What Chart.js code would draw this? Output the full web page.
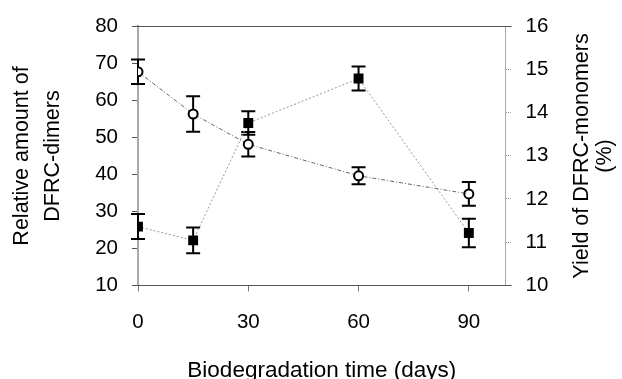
<!DOCTYPE html>
<html>
<head>
<meta charset="utf-8">
<script src="https://cdn.jsdelivr.net/npm/chart.js@4"></script>
<style>
  body { margin: 0; background: #fff; }
  canvas { display: block; }
</style>
</head>
<body>
<canvas id="chart" width="622" height="379"></canvas>
<script>
// data
const days = [0, 15, 30, 60, 90];
const xTicks = [0, 30, 60, 90];
const dimers = [67.7, 56.3, 48.1, 39.6, 34.7];      // left axis, open circles
const dimersErr = [3.3, 4.8, 3.3, 2.3, 3.2];
const monomers = [11.36, 11.04, 13.76, 14.79, 11.21]; // right axis, filled squares
const monomersErr = [0.29, 0.3, 0.27, 0.28, 0.33];

const FONT = "'Liberation Sans', Arial, sans-serif";

// error bars, drawn under the markers
const errorBars = {
  id: "errorBars",
  beforeDatasetsDraw(chart) {
    const ctx = chart.ctx;
    chart.data.datasets.forEach((ds, i) => {
      const meta = chart.getDatasetMeta(i);
      const yScale = chart.scales[ds.yAxisID];
      ctx.save();
      ctx.strokeStyle = "#000";
      ctx.lineWidth = 2;
      meta.data.forEach((pt, j) => {
        const v = ds.data[j].y;
        const e = ds.errors[j];
        const top = yScale.getPixelForValue(v + e);
        const bot = yScale.getPixelForValue(v - e);
        ctx.beginPath();
        ctx.moveTo(pt.x, top);
        ctx.lineTo(pt.x, bot);
        ctx.moveTo(pt.x - 7, top);
        ctx.lineTo(pt.x + 7, top);
        ctx.moveTo(pt.x - 7, bot);
        ctx.lineTo(pt.x + 7, bot);
        ctx.stroke();
      });
      ctx.restore();
    });
  },
};

// frame lines and axis titles
const decorations = {
  id: "decorations",
  afterDraw(chart) {
    const ctx = chart.ctx;
    const a = chart.chartArea;
    ctx.save();
    ctx.strokeStyle = "#555";
    ctx.lineWidth = 1;
    ctx.beginPath();
    ctx.moveTo(a.left - 6, Math.round(a.top) + 0.5);
    ctx.lineTo(a.right + 6, Math.round(a.top) + 0.5);
    ctx.moveTo(a.left - 6, Math.round(a.bottom) + 0.5);
    ctx.lineTo(a.right + 6, Math.round(a.bottom) + 0.5);
    ctx.stroke();

    ctx.fillStyle = "#000";
    ctx.textAlign = "center";
    ctx.textBaseline = "alphabetic";
    ctx.font = "22.5px " + FONT;
    ctx.fillText("Biodegradation time (days)", (a.left + a.right) / 2, 377);

    ctx.font = "21.5px " + FONT;
    const midY = 156;
    [["Relative amount of", 28], ["DFRC-dimers", 59],
     ["Yield of DFRC-monomers", 588], ["(%)", 611]].forEach(([t, x]) => {
      ctx.save();
      ctx.translate(x, midY);
      ctx.rotate(-Math.PI / 2);
      ctx.fillText(t, 0, 0);
      ctx.restore();
    });
    ctx.restore();
  },
};

new Chart(document.getElementById("chart"), {
  type: "line",
  data: {
    datasets: [
      {
        label: "DFRC-dimers",
        data: days.map((d, i) => ({ x: d, y: dimers[i] })),
        errors: dimersErr,
        yAxisID: "y",
        borderColor: "#666",
        borderWidth: 1,
        borderDash: [4, 2, 1, 2],
        pointStyle: "circle",
        pointRadius: 4.5,
        pointBorderWidth: 2,
        pointBorderColor: "#000",
        pointBackgroundColor: "#fff",
        tension: 0,
      },
      {
        label: "DFRC-monomers",
        data: days.map((d, i) => ({ x: d, y: monomers[i] })),
        errors: monomersErr,
        yAxisID: "y1",
        borderColor: "#999",
        borderWidth: 1,
        borderDash: [2, 2],
        pointStyle: "rect",
        pointRadius: 7,
        pointBorderWidth: 0,
        pointBackgroundColor: "#000",
        tension: 0,
      },
    ],
  },
  options: {
    responsive: false,
    animation: false,
    layout: { padding: { top: 24, left: 0, right: 0, bottom: 0 } },
    plugins: { legend: { display: false }, tooltip: { enabled: false } },
    scales: {
      x: {
        type: "linear",
        min: 0,
        max: 100,
        afterBuildTicks: (s) => { s.ticks = xTicks.map((v) => ({ value: v })); },
        afterFit: (s) => { s.height = 379 - 285.3; },
        grid: { drawOnChartArea: false, tickLength: 6, color: "#777" },
        border: { color: "#555", width: 1 },
        ticks: { color: "#000", font: { family: FONT, size: 20.5 }, padding: 19, maxRotation: 0 },
      },
      y: {
        position: "left",
        min: 10,
        max: 80,
        afterFit: (s) => { s.width = 138; },
        grid: { drawOnChartArea: false, tickLength: 6, color: "#555" },
        border: { color: "#aaa", width: 2 },
        ticks: { stepSize: 10, color: "#000", font: { family: FONT, size: 20.5 }, padding: 14 },
      },
      y1: {
        position: "right",
        min: 10,
        max: 16,
        afterFit: (s) => { s.width = 622 - 505.6; },
        grid: { drawOnChartArea: false, tickLength: 6, color: "#999", tickBorderDash: [1, 1] },
        border: { color: "#aaa", width: 1, dash: [1, 2] },
        ticks: { stepSize: 1, color: "#000", font: { family: FONT, size: 20.5 }, padding: 14 },
      },
    },
  },
  plugins: [errorBars, decorations],
});
</script>
</body>
</html>
